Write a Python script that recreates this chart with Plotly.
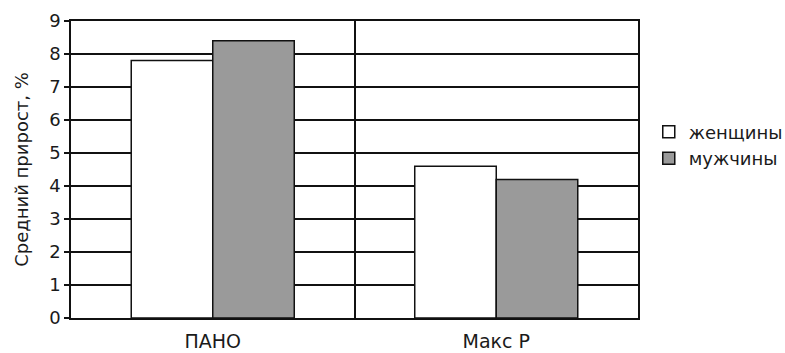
import plotly.graph_objects as go

categories = ["ПАНО", "Макс Р"]
women = [7.8, 4.6]
men = [8.4, 4.2]
series_names = ["женщины", "мужчины"]
y_ticks = list(range(0, 10))

fig = go.Figure()
fig.add_trace(go.Bar(x=categories, y=women, name=series_names[0],
                     marker=dict(color="#ffffff", line=dict(color="#111111", width=1.5))))
fig.add_trace(go.Bar(x=categories, y=men, name=series_names[1],
                     marker=dict(color="#9a9a9a", line=dict(color="#111111", width=1.5))))

font_family = "DejaVu Sans, sans-serif"
fig.update_layout(
    width=785, height=353,
    margin=dict(l=71, r=147, t=21, b=35, autoexpand=False),
    paper_bgcolor="#ffffff", plot_bgcolor="#ffffff",
    barmode="group", bargap=0.425, bargroupgap=0,
    font=dict(family=font_family, size=18, color="#1a1a1a"),
    showlegend=True,
    legend=dict(x=1.019, y=0.582, xanchor="left", yanchor="middle",
                font=dict(size=18), itemwidth=30,
                bgcolor="rgba(0,0,0,0)"),
    xaxis=dict(showline=True, linecolor="#111111", linewidth=1.5, mirror=True,
               showgrid=True, gridcolor="#111111", gridwidth=1.5,
               tickson="boundaries", ticks="", ticklen=0, automargin=False,
               ticklabelstandoff=5, tickfont=dict(size=19)),
    yaxis=dict(range=[0, 9], tickvals=y_ticks, showline=True, linecolor="#111111",
               linewidth=1.5, mirror=True, showgrid=True, gridcolor="#111111",
               gridwidth=1.5, ticks="outside", ticklen=5, tickcolor="#111111",
               tickwidth=1.5, tickfont=dict(size=18), zeroline=False, automargin=False,
               title=dict(text="Средний прирост, %", font=dict(size=18), standoff=16)),
)
fig.write_html("out.html")
